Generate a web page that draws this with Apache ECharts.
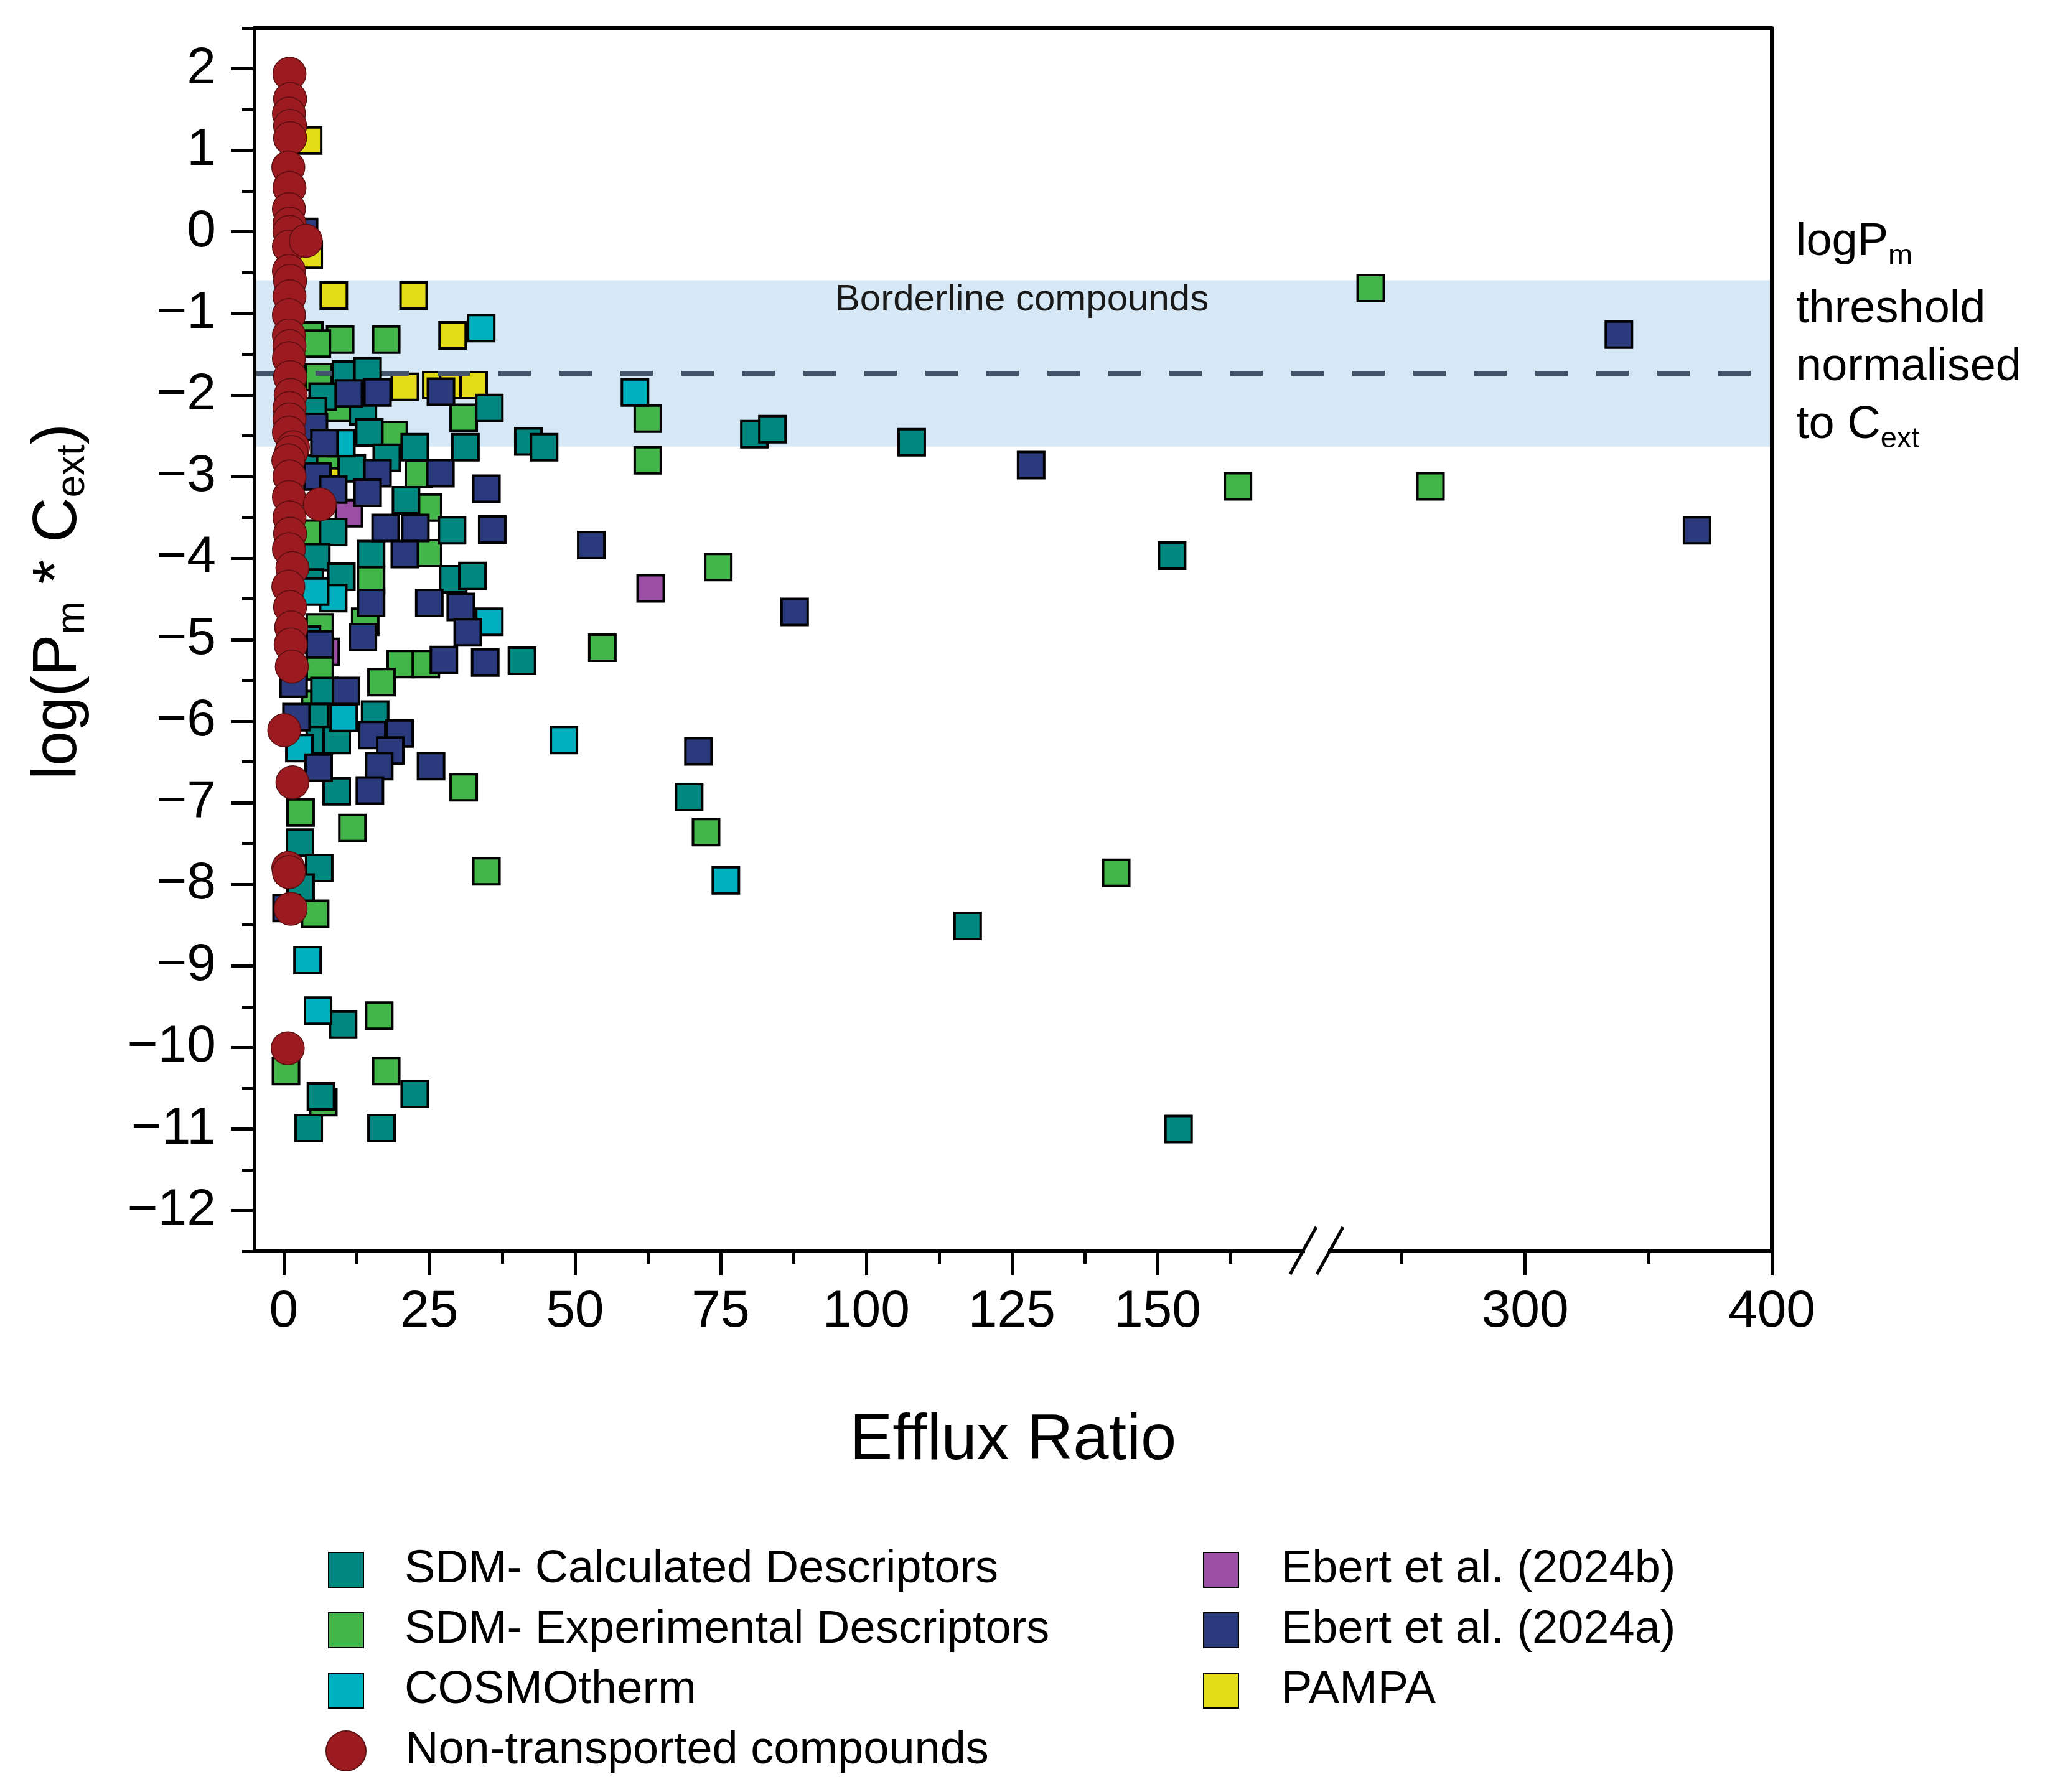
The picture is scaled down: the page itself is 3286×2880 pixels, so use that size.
<!DOCTYPE html>
<html><head><meta charset="utf-8">
<script src="https://cdn.jsdelivr.net/npm/echarts@6/dist/echarts.min.js"></script>
<style>html,body{margin:0;padding:0;background:#fff}#c{width:3286px;height:2880px}</style>
</head><body><div id="c"></div>
<script>
// ---------------- data (Efflux Ratio, log(Pm*Cext)) ----------------
const seriesNames = [
  'SDM- Calculated Descriptors', 'SDM- Experimental Descriptors', 'COSMOtherm',
  'Non-transported compounds', 'Ebert et al. (2024b)', 'Ebert et al. (2024a)', 'PAMPA'
];
const sdmCalculated = [
  [10.7,-1.75],[14.4,-1.71],[6.7,-2.02],[35.3,-2.16],[5,-2.2],[13.6,-2.2],[14.7,-2.46],[22.5,-2.64],
  [31.2,-2.64],[42,-2.57],[44.7,-2.64],[11.7,-2.9],[17.7,-2.77],[3.5,-2.9],[21,-3.29],[28.9,-3.66],
  [8.5,-3.68],[15,-3.95],[5.6,-3.99],[9.9,-4.23],[4.5,-4.3],[29.1,-4.26],[32.4,-4.22],[4,-5.0],
  [40.9,-5.26],[7,-5.63],[5.4,-5.95],[15.7,-5.92],[6.2,-6.23],[9.1,-6.23],[9.1,-6.86],[2.8,-7.49],
  [6.1,-7.8],[2.9,-8.04],[10.2,-9.72],[22.5,-10.57],[6.4,-10.6],[4.3,-10.99],[16.8,-10.99],
  [80.8,-2.48],[83.9,-2.42],[107.8,-2.58],[152.5,-3.97],[69.6,-6.93],[117.4,-8.51],[153.6,-11.0]
];
const sdmExperimental = [
  [4.4,-1.27],[9.7,-1.32],[17.6,-1.32],[5.7,-1.37],[6,-1.78],[9.1,-2.16],[30.9,-2.28],[18.9,-2.49],
  [7.2,-2.74],[23.2,-2.97],[24.8,-3.38],[5.2,-3.7],[24.8,-3.94],[15,-4.27],[14,-4.78],[6.2,-4.85],
  [20.1,-5.3],[24.4,-5.3],[16.8,-5.52],[6.2,-5.33],[5.4,-5.79],[30.9,-6.81],[2.9,-7.12],[11.8,-7.31],
  [34.8,-7.84],[5.4,-8.36],[16.4,-9.61],[0.4,-10.29],[17.6,-10.29],[6.8,-10.67],
  [237.4,-0.69],[62.5,-2.29],[62.5,-2.8],[163.8,-3.12],[261.6,-3.12],[74.6,-4.11],[54.7,-5.1],
  [72.5,-7.36],[142.9,-7.86]
];
const cosmotherm = [
  [33.9,-1.18],[9.9,-2.59],[60.3,-1.97],[8.5,-4.49],[5.4,-4.41],[35.3,-4.78],[10.3,-5.96],
  [2.7,-6.33],[48.1,-6.23],[75.9,-7.95],[4.1,-8.93],[5.9,-9.55]
];
const nonTransported = [
  [1.0,1.94],[1.1,1.63],[0.9,1.45],[1.1,1.3],[1.1,1.15],[0.8,0.79],[1.0,0.54],[0.9,0.28],[1.0,0.1],
  [1.0,0.0],[0.9,-0.18],[3.8,-0.11],[0.9,-0.48],[1.1,-0.6],[1.0,-0.79],[0.9,-1.02],[0.9,-1.27],
  [1.0,-1.4],[0.9,-1.55],[1.1,-1.78],[1.2,-2.0],[1.0,-2.16],[1.0,-2.3],[0.9,-2.46],[1.6,-2.64],
  [1.3,-2.7],[0.8,-2.8],[1.0,-3.0],[0.9,-3.25],[6.2,-3.34],[1.0,-3.5],[1.1,-3.7],[0.9,-3.89],
  [1.5,-4.12],[0.8,-4.35],[1.1,-4.6],[1.3,-4.85],[1.2,-5.06],[1.4,-5.33],[0.1,-6.11],[1.5,-6.75],
  [0.8,-7.8],[0.9,-7.85],[1.2,-8.3],[0.7,-10.01]
];
const ebert2024b = [[63,-4.37],[11.2,-3.45],[7.2,-5.15]];
const ebert2024a = [
  [3.5,0.0],[11.2,-1.98],[16.1,-1.97],[27,-1.96],[5.2,-2.39],[7,-2.59],[16.1,-2.96],[5.8,-3.0],
  [26.9,-2.96],[34.8,-3.15],[8.5,-3.16],[14.4,-3.2],[17.5,-3.63],[22.6,-3.63],[35.8,-3.65],
  [52.8,-3.84],[20.8,-3.95],[15,-4.55],[25,-4.55],[30.4,-4.6],[31.6,-4.91],[13.6,-4.97],[6.2,-5.06],
  [27.5,-5.25],[34.6,-5.28],[1.7,-5.54],[10.7,-5.63],[2.2,-5.95],[15.2,-6.17],[19.9,-6.15],
  [18.3,-6.36],[6,-6.57],[16.4,-6.55],[25.3,-6.55],[14.8,-6.85],[0.5,-8.29],
  [128.3,-2.86],[87.7,-4.66],[71.2,-6.37],[338,-1.26],[369.7,-3.66]
];
const pampa = [
  [4.2,1.12],[4.3,-0.28],[8.6,-0.78],[22.3,-0.78],[29,-1.27],[20.8,-1.9],[26.2,-1.88],[29.1,-1.88],
  [32.6,-1.88],[8.3,-2.97]
];
// tick labels
const xMajorA = [0, 25, 50, 75, 100, 125, 150];
const xMinorA = [12.5, 37.5, 62.5, 87.5, 112.5, 137.5, 162.5];
const xMajorB = [300, 400];
const xMinorB = [250, 350];
const yMajor = [-12,-11,-10,-9,-8,-7,-6,-5,-4,-3,-2,-1,0,1,2];
const yMinor = [-12.5,-11.5,-10.5,-9.5,-8.5,-7.5,-6.5,-5.5,-4.5,-3.5,-2.5,-1.5,-0.5,0.5,1.5,2.5];
const borderlineBand = [-0.593, -2.633];
const thresholdLine = -1.73;
const breakValue = 200;

// ---------------- layout ----------------
const FONT = "'Liberation Sans', Arial, sans-serif";
const L = 409, T = 45, H = 1966, BRK = 2094, R = 2847;
const axisLineStyle = { color: '#000', width: 6 };
const tickStyle = { color: '#000', width: 5 };

function lineAxis(grid, pos, min, max) {
  return { gridIndex: grid, type: 'value', position: pos, min, max, z: 10,
    axisLine: { show: true, onZero: false, lineStyle: axisLineStyle },
    axisTick: { show: false }, axisLabel: { show: false }, splitLine: { show: false } };
}
function tickAxis(grid, pos, min, max, ticks, len, labels, margin) {
  return { gridIndex: grid, type: 'value', position: pos, min, max, z: 10,
    axisLine: { show: !!labels, onZero: false, lineStyle: axisLineStyle },
    axisTick: { show: true, customValues: ticks, length: len, inside: false, lineStyle: tickStyle },
    axisLabel: labels ? { show: true, customValues: labels, margin, fontSize: 84, color: '#000', fontFamily: FONT,
      formatter: v => String(v).replace('-', '\u2212') } : { show: false },
    splitLine: { show: false } };
}

const styles = {
  'SDM- Calculated Descriptors': { data: sdmCalculated, color: '#00877f', symbol: 'rect' },
  'SDM- Experimental Descriptors': { data: sdmExperimental, color: '#43b64a', symbol: 'rect' },
  'COSMOtherm': { data: cosmotherm, color: '#00b0be', symbol: 'rect' },
  'Non-transported compounds': { data: nonTransported, color: '#9b1b20', symbol: 'circle' },
  'Ebert et al. (2024b)': { data: ebert2024b, color: '#9b50a5', symbol: 'rect' },
  'Ebert et al. (2024a)': { data: ebert2024a, color: '#2a3a7d', symbol: 'rect' },
  'PAMPA': { data: pampa, color: '#e4dc19', symbol: 'rect' }
};
const drawOrder = ['Ebert et al. (2024b)', 'PAMPA', 'SDM- Experimental Descriptors', 'SDM- Calculated Descriptors',
  'COSMOtherm', 'Ebert et al. (2024a)', 'Non-transported compounds'];

const series = [{
  type: 'scatter', xAxisIndex: 6, yAxisIndex: 3, data: [], silent: true, z: 1,
  markArea: { silent: true, itemStyle: { color: '#d6e7f5' },
    label: { show: true, position: 'insideTop', distance: 2, offset: [14, 0], formatter: 'Borderline compounds',
      fontSize: 60, color: '#1a1a1a', fontFamily: FONT },
    data: [[{ yAxis: borderlineBand[0] }, { yAxis: borderlineBand[1] }]] },
  markLine: { silent: true, symbol: ['none', 'none'], label: { show: false },
    lineStyle: { type: [52, 46], color: '#44546a', width: 8 },
    data: [{ yAxis: thresholdLine }] }
}];
drawOrder.forEach((name, i) => {
  const s = styles[name];
  const circle = s.symbol === 'circle';
  const common = { name, type: 'scatter', symbol: s.symbol, symbolSize: circle ? 53 : 42, z: 2 + i,
    itemStyle: { color: s.color, borderColor: circle ? '#5a0e10' : '#000', borderWidth: circle ? 1.5 : 4, opacity: 1 },
    emphasis: { disabled: true }, silent: true };
  series.push(Object.assign({}, common, { xAxisIndex: 0, yAxisIndex: 0, data: s.data.filter(p => p[0] < breakValue) }));
  series.push(Object.assign({}, common, { xAxisIndex: 3, yAxisIndex: 2, data: s.data.filter(p => p[0] >= breakValue) }));
});

const legendText = { fontSize: 74, color: '#000', fontFamily: FONT, lineHeight: 74, padding: [0, 0, 0, 61] };
const noteRich = {
  a: { fontSize: 74, lineHeight: 93, color: '#000', fontFamily: FONT },
  s: { fontSize: 47, lineHeight: 30, verticalAlign: 'bottom', color: '#000', fontFamily: FONT }
};
const option = {
  animation: false,
  backgroundColor: '#fff',
  textStyle: { fontFamily: FONT },
  title: [{
    text: '{a|logP}{s|m}', left: 2881, top: 338,
    textStyle: { fontSize: 74, fontWeight: 'normal', color: '#000', fontFamily: FONT, lineHeight: 93, rich: noteRich }
  }, {
    text: '{a|threshold}\n{a|normalised}\n{a|to C}{s|ext}', left: 2881, top: 446,
    textStyle: { fontSize: 74, fontWeight: 'normal', color: '#000', fontFamily: FONT, lineHeight: 93, rich: noteRich }
  }],
  grid: [
    { left: L, top: T, width: BRK - L, height: H, containLabel: false, outerBoundsMode: 'none' },
    { left: BRK, top: T, width: R - BRK, height: H, containLabel: false, outerBoundsMode: 'none' },
    { left: L, top: T, width: R - L, height: H, containLabel: false, outerBoundsMode: 'none' }
  ],
  xAxis: [
    tickAxis(0, 'bottom', -5, 175, xMajorA, 38, xMajorA, 56),
    tickAxis(0, 'bottom', -5, 175, xMinorA, 20, null),
    lineAxis(0, 'top', -5, 175),
    tickAxis(1, 'bottom', 210, 400, xMajorB, 38, xMajorB, 56),
    tickAxis(1, 'bottom', 210, 400, xMinorB, 20, null),
    lineAxis(1, 'top', 210, 400),
    { gridIndex: 2, type: 'value', position: 'bottom', min: 0, max: 1,
      axisLine: { show: false, onZero: false }, axisTick: { show: false }, axisLabel: { show: false }, splitLine: { show: false },
      name: 'Efflux Ratio', nameLocation: 'middle', nameGap: 254,
      nameTextStyle: { fontSize: 103, color: '#000', fontFamily: FONT } }
  ],
  yAxis: [
    Object.assign(tickAxis(0, 'left', -12.5, 2.5, yMajor, 38, yMajor, 62), {
      name: '{a|log(P}{s|m}{a| * C}{s|ext}{a|)}', nameLocation: 'middle', nameRotate: 90, nameGap: 260,
      nameTextStyle: { color: '#000', padding: [0, 0, 0, 122], rich: {
        a: { fontSize: 100, lineHeight: 110, color: '#000', fontFamily: FONT },
        s: { fontSize: 64, lineHeight: 50, verticalAlign: 'bottom', color: '#000', fontFamily: FONT } } } }),
    tickAxis(0, 'left', -12.5, 2.5, yMinor, 20, null),
    lineAxis(1, 'right', -12.5, 2.5),
    { gridIndex: 2, type: 'value', show: false, min: -12.5, max: 2.5 }
  ],
  legend: [
    { data: seriesNames.slice(0, 3), orient: 'vertical', left: 522, top: 2481, itemWidth: 56, itemHeight: 56,
      itemGap: 23, selectedMode: false, textStyle: legendText },
    { data: [seriesNames[3]], orient: 'vertical', left: 518, top: 2772, itemWidth: 64, itemHeight: 64,
      itemGap: 23, selectedMode: false, textStyle: Object.assign({}, legendText, { padding: [0, 0, 0, 58] }) },
    { data: seriesNames.slice(4), orient: 'vertical', left: 1928, top: 2481, itemWidth: 56, itemHeight: 56,
      itemGap: 23, selectedMode: false, textStyle: Object.assign({}, legendText, { padding: [0, 0, 0, 64] }) }
  ],
  graphic: [
    { type: 'rect', z: 100, shape: { x: 2097, y: 2003, width: 37, height: 16 }, style: { fill: '#fff' } },
    { type: 'line', z: 101, shape: { x1: 2073, y1: 2048, x2: 2115, y2: 1972 }, style: { stroke: '#000', lineWidth: 5 } },
    { type: 'line', z: 101, shape: { x1: 2116, y1: 2048, x2: 2158, y2: 1972 }, style: { stroke: '#000', lineWidth: 5 } }
  ],
  series
};
const chart = echarts.init(document.getElementById('c'), null, { renderer: 'canvas' });
chart.setOption(option);
</script></body></html>
